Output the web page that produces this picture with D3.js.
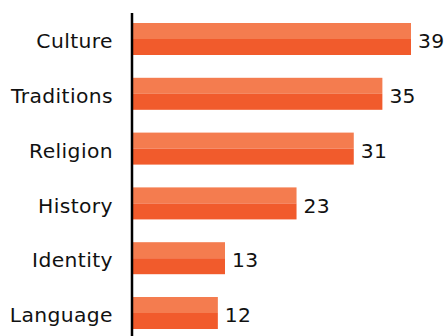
<!DOCTYPE html>
<html>
<head>
<meta charset="utf-8">
<script src="https://cdn.jsdelivr.net/npm/d3@7"></script>
<style>
  html, body { margin: 0; padding: 0; background: #fff; }
  svg { display: block; }
</style>
</head>
<body>
<svg id="chart" width="446" height="336"></svg>
<script>
// Topic counts
const categories = ["Culture", "Traditions", "Religion", "History", "Identity", "Language"];
const values = [39, 35, 31, 23, 13, 12];

const W = 446, H = 336;
const x0 = 132;
const FONT = "'DejaVu Sans', Verdana, sans-serif";
const FS = 20.3;
const svg = d3.select("#chart");

const x = d3.scaleLinear().domain([0, 39]).range([x0, 411]);
const y = d3.scaleBand()
  .domain(categories)
  .range([11.6, 340.4])
  .paddingInner(0.416)
  .paddingOuter(0.208);

const bw = y.bandwidth();

const bars = svg.append("g").selectAll("g")
  .data(categories)
  .join("g");

// lighter upper half
bars.append("rect")
  .attr("x", x(0))
  .attr("y", d => y(d))
  .attr("width", (d, i) => x(values[i]) - x(0))
  .attr("height", bw / 2)
  .attr("fill", "#F47C4F");

// darker lower half
bars.append("rect")
  .attr("x", x(0))
  .attr("y", d => y(d) + bw / 2)
  .attr("width", (d, i) => x(values[i]) - x(0))
  .attr("height", bw / 2)
  .attr("fill", "#F15B2C");

// value labels
bars.append("text")
  .attr("x", (d, i) => x(values[i]) + 7)
  .attr("y", d => y(d) + bw / 2)
  .attr("dy", 9.2)
  .attr("font-family", FONT)
  .attr("font-size", FS)
  .attr("letter-spacing", 0.3)
  .attr("fill", "#111")
  .text((d, i) => values[i]);

// category axis
const axis = d3.axisLeft(y).tickSize(0).tickPadding(19);
const gAxis = svg.append("g")
  .attr("transform", `translate(${x0},0)`)
  .call(axis);
gAxis.select(".domain").remove();
gAxis.selectAll("text")
  .attr("dy", 9.2)
  .attr("font-family", FONT)
  .attr("font-size", FS)
  .attr("letter-spacing", 0.4)
  .attr("fill", "#111");

svg.append("line")
  .attr("x1", x0).attr("x2", x0)
  .attr("y1", 13).attr("y2", H)
  .attr("stroke", "#000")
  .attr("stroke-width", 2.5);
</script>
</body>
</html>
